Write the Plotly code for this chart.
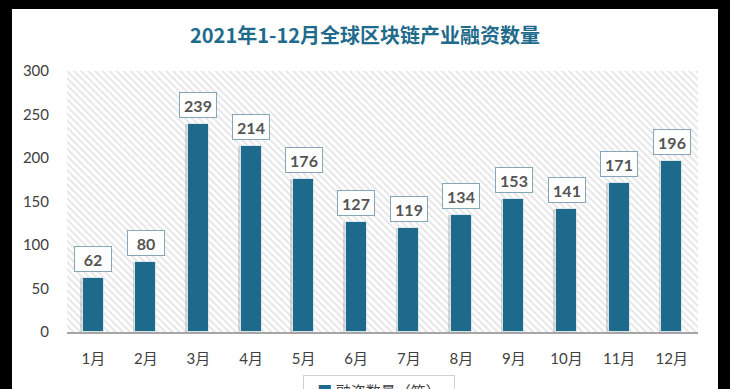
import plotly.graph_objects as go

months = ["1月", "2月", "3月", "4月", "5月", "6月", "7月", "8月", "9月", "10月", "11月", "12月"]
values = [62, 80, 239, 214, 176, 127, 119, 134, 153, 141, 171, 196]
series_name = "融资数量（笔）"
title_text = "2021年1-12月全球区块链产业融资数量"
y_max = 300
y_ticks = [0, 50, 100, 150, 200, 250, 300]

CJK = "Noto Sans CJK SC"
NUM = "Lato, Noto Sans CJK SC"
BAR = "#1d6a8d"

fig = go.Figure()

# hatched plot-area background
fig.add_trace(go.Bar(
    x=months, y=[y_max] * len(months), width=1.0,
    marker=dict(color="white", line=dict(width=0),
                pattern=dict(shape="\\", fgcolor="#cccccc", bgcolor="white", size=5, solidity=0.4)),
    hoverinfo="skip", showlegend=False,
))
# soft shadow of bars
fig.add_trace(go.Bar(
    x=months, y=values, width=0.42, offset=-0.25,
    marker=dict(color="rgba(110,110,110,0.25)", line=dict(width=0)),
    hoverinfo="skip", showlegend=False,
))
# main bars
fig.add_trace(go.Bar(
    x=months, y=values, width=0.4, offset=-0.2, name=series_name, showlegend=False,
    marker=dict(color=BAR, line=dict(color="rgba(255,255,255,0.7)", width=1)),
))

for m, v in zip(months, values):
    fig.add_annotation(
        x=m, y=v, text=f"<b>{v}</b>", showarrow=False, yanchor="bottom", yshift=6,
        font=dict(family=NUM, size=16, color="#555555"),
        bgcolor="white", bordercolor="#86a6b8", borderwidth=1, borderpad=2,
        width=32, height=20,
    )

# legend box (cut off at the bottom edge as in the source image)
fig.add_annotation(
    xref="paper", yref="paper", x=0.494, y=-0.165, xanchor="center", yanchor="top",
    text=f"<span style='color:{BAR}'>■</span> {series_name}", showarrow=False,
    font=dict(family=CJK, size=15, color="#404040"),
    bgcolor="white", bordercolor="#d0d0d0", borderwidth=1, borderpad=4, width=142,
)

# white panel over black surround
fig.add_shape(type="rect", xref="paper", yref="paper",
              x0=-0.0872, x1=1.0317, y0=-0.25, y1=1.2375,
              fillcolor="white", line=dict(width=0), layer="below")

fig.update_layout(
    width=730, height=389,
    margin=dict(l=67, r=32, t=71, b=57),
    paper_bgcolor="black",
    plot_bgcolor="rgba(0,0,0,0)",
    barmode="overlay",
    bargap=0,
    showlegend=False,
    title=dict(text=f"<b>{title_text}</b>", xref="container", x=0.5, xanchor="center",
               yref="container", y=0.907, yanchor="middle",
               font=dict(family=CJK, size=20, color="#1f6b8c")),
    font=dict(family=CJK),
)
fig.update_xaxes(showgrid=False, showline=True, linecolor="#a6a6a6", linewidth=2,
                 ticks="outside", ticklen=12, tickcolor="rgba(0,0,0,0)",
                 tickfont=dict(family=NUM, size=15, color="#404040"),
                 range=[-0.5, len(months) - 0.5])
fig.update_yaxes(range=[0, y_max], tickvals=y_ticks, showgrid=False, zeroline=False,
                 showline=False, ticks="outside", ticklen=14, tickcolor="rgba(0,0,0,0)",
                 tickfont=dict(family=NUM, size=15, color="#404040"))

fig.write_html("out.html", config={"displayModeBar": False},
               post_script="document.body.style.margin='0';document.body.style.overflow='hidden';")
